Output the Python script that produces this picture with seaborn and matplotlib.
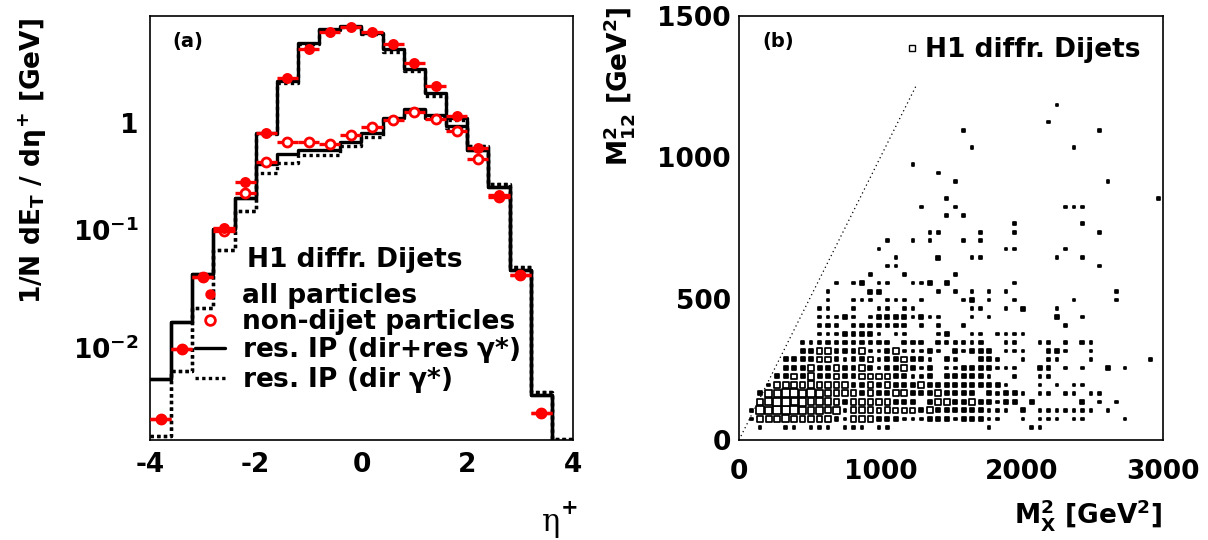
import numpy as np
import pandas as pd
import matplotlib
matplotlib.use("Agg")
import matplotlib.pyplot as plt
import seaborn as sns
from matplotlib.lines import Line2D
from matplotlib.ticker import LogLocator, NullFormatter, MultipleLocator

# ---------------- panel (a) data ----------------
eta_edges = [-4.0, -3.6, -3.2, -2.8, -2.4, -2.0, -1.6, -1.2, -0.8, -0.4, 0.0,
             0.4, 0.8, 1.2, 1.6, 2.0, 2.4, 2.8, 3.2, 3.6, 4.0]
eta_centers = [-3.8, -3.4, -3.0, -2.6, -2.2, -1.8, -1.4, -1.0, -0.6, -0.2,
               0.2, 0.6, 1.0, 1.4, 1.8, 2.2, 2.6, 3.0, 3.4, 3.8]
eta_half_width = 0.2

all_model_dirres = [0.0067, 0.0206, 0.052, 0.125, 0.229, 0.823, 2.26, 4.71, 6.22, 6.64,
                    5.72, 4.19, 2.85, 1.78, 1.09, 0.587, 0.285, 0.0564, 0.0049, 0.0008]
all_model_dir = [0.0022, 0.0078, 0.0267, 0.083, 0.18, 0.80, 2.16, 4.6, 6.1, 6.5,
                 5.6, 4.0, 2.74, 1.68, 1.06, 0.63, 0.30, 0.0597, 0.0052, 0.0021]
nondijet_model_dirres = [0.0067, 0.0206, 0.052, 0.125, 0.229, 0.444, 0.543, 0.587, 0.587, 0.69,
                         0.813, 1.09, 1.30, 1.16, 0.93, 0.587, 0.285, 0.0564, 0.0049, 0.0008]
nondijet_model_dir = [0.0022, 0.0078, 0.0267, 0.083, 0.18, 0.372, 0.458, 0.532, 0.532, 0.638,
                      0.761, 1.07, 1.28, 1.10, 0.90, 0.63, 0.30, 0.0597, 0.0052, 0.0021]
all_points = [0.0031, 0.0120, 0.0495, 0.127, 0.316, 0.813, 2.38, 4.19, 5.84, 6.51,
              5.9, 4.64, 3.22, 2.05, 1.14, 0.606, 0.245, 0.0513, 0.0035, np.nan]
nondijet_points = [0.0031, 0.0120, 0.0495, 0.12, 0.255, 0.462, 0.682, 0.69, 0.66, 0.787,
                   0.925, 1.05, 1.22, 1.07, 0.855, 0.49, 0.233, 0.0513, 0.0035, np.nan]

# ---------------- panel (b) data ----------------
# 2D histogram: 50 bins of 60 GeV^2 in M_X^2, rows of 30 GeV^2 in M_12^2.
mx_bin_width = 60.0
m12_bin_width = 30.0
m12_rows = [
    ".........." ".........." ".........." ".........." "..........",  # j=0
    "..1..11.11" "1.111.11.." ".........1" "....11...." "..........",
    ".155575555" "5215552221" "1122212221" "1..1.111.1" "1....1....",
    ".197999777" "5715553533" "3252222221" "11.2.11111" "11.1......",
    "..57997977" "7525555522" "2.25522522" "122.2....." "2.1.1.....",
    "..27799797" "5555252255" "22252222.2" "1221.11.11" ".11.......",
    "...1555575" "5552252522" "2522222222" "21...1.1.1" "1.........",
    "....225272" "2522555522" "112.222221" "..1..11..." "..........",
    ".....22252" "2522521225" "212.112222" "111..22.1." "1..2.1....",
    ".....22225" "5212251225" "221.21..22" "1..1..11.." ".1......1.",
    ".......225" "5222511251" "1121.21222" ".111..221." ".1........",  # j=10
    ".......111" "22222122.2" "22.211112." ".11..12.1." "21........",
    ".........1" "1122221.11" "...12..11." "1111......" "..........",
    ".........1" "21.1222122" ".1.1..1..." "........1." "..........",
    ".........1" "1121.12222" "1211...1.1" ".......2.." "1.........",
    ".........1" "1..1..11.1" "1......11." ".1.2...1.." "..........",
    ".........." "1..111.111" ".1....12.1" "..1......1" "....1.....",
    ".........." "1....22..." "...1.1.1.1" ".1........" "....1.....",
    ".........." ".1.12.11.." "112.2....." "..1......." "..........",
    ".........." ".....1...1" ".....1...." ".........." "..........",
    ".........." ".......11." ".........." ".........." "..1.......",  # j=20
    ".........." "........1." "...2...11." ".......1.." "1.........",
    ".........." "......1..." ".........." ".11.....1." "..........",
    ".........." ".......1.." "1.1...1.1." ".........." "..........",
    ".........." ".........." "..11....1." "..1......." "..1.......",
    ".........." ".........." ".........." "..1......." "1.........",
    ".........." ".........." "....1.1..." ".........." "..........",
    ".........." ".........." ".1...1...." "........11" "1.........",
    ".........." ".........." "....1....." ".........." ".........1",
    ".........." ".........." ".........." ".........." "..........",
    ".........." ".........." ".....1...." ".........." "...1......",  # j=30
    ".........." ".........." "...1......" ".........." "..........",
    ".........." ".........." "1........." ".........." "..........",
    ".........." ".........." ".........." ".........." "..........",
    ".........." ".........." ".......1.." ".........1" "..........",
    ".........." ".........." ".........." ".........." "..........",
    ".........." ".........." "......1..." ".........." "..1.......",
    ".........." ".........." ".........." "......1..." "..........",
    ".........." ".........." ".........." ".........." "..........",
    ".........." ".........." ".........." ".......1.." "..........",
]
limit_mx2 = [0.0, 1250.0]
limit_m12 = [0.0, 1250.0]

# ---------------- style ----------------
sns.set_theme(style="white")
plt.rcParams["font.family"] = ["DejaVu Sans"]
plt.rcParams["font.weight"] = "bold"
plt.rcParams["axes.labelweight"] = "bold"
plt.rcParams["mathtext.fontset"] = "custom"
plt.rcParams["mathtext.rm"] = "DejaVu Sans:bold"
plt.rcParams["mathtext.it"] = "DejaVu Sans:bold"
plt.rcParams["mathtext.bf"] = "DejaVu Sans:bold"
plt.rcParams["mathtext.sf"] = "DejaVu Sans:bold"
plt.rcParams["axes.linewidth"] = 1.2
plt.rcParams["axes.edgecolor"] = "black"
plt.rcParams["text.color"] = "black"
plt.rcParams["axes.labelcolor"] = "black"
plt.rcParams["xtick.color"] = "black"
plt.rcParams["ytick.color"] = "black"

FS = 19
W, H = 1208, 540
fig = plt.figure(figsize=(W / 100, H / 100), dpi=100)
ax1 = fig.add_axes([150 / W, 1 - 440 / H, 423 / W, 424 / H])
ax2 = fig.add_axes([739 / W, 1 - 440 / H, 424 / W, 424 / H])

# ---------------- panel (a) ----------------
def step_line(vals, ls):
    yv = list(vals) + [vals[-1]]
    sns.lineplot(x=eta_edges, y=yv, drawstyle="steps-post", color="black",
                 linewidth=2.4, linestyle=ls, estimator=None, sort=False, ax=ax1)

step_line(all_model_dir, (0, (1, 1)))
step_line(nondijet_model_dir, (0, (1, 1)))
step_line(all_model_dirres, "-")
step_line(nondijet_model_dirres, "-")

ax1.errorbar(eta_centers, nondijet_points, xerr=eta_half_width, fmt="none",
             ecolor="red", elinewidth=2.4, capsize=0, zorder=5)
ax1.errorbar(eta_centers, all_points, xerr=eta_half_width, fmt="none",
             ecolor="red", elinewidth=2.4, capsize=0, zorder=5)
sns.scatterplot(x=eta_centers, y=nondijet_points, marker="o", s=42, facecolor="white",
                edgecolor="red", linewidth=2.0, ax=ax1, zorder=6)
sns.scatterplot(x=eta_centers, y=all_points, marker="o", s=62, color="red",
                edgecolor="red", linewidth=0, ax=ax1, zorder=7)

ax1.set_yscale("log")
ax1.set_xlim(-4, 4)
ax1.set_ylim(0.00205, 8.0)
ax1.set_xlabel("")
ax1.set_ylabel("")
ax1.set_xticks([-4, -2, 0, 2, 4])
ax1.set_xticklabels(["-4", "-2", "0", "2", "4"])
ax1.xaxis.set_minor_locator(MultipleLocator(0.5))
ax1.set_yticks([0.01, 0.1, 1.0])
ax1.set_yticklabels([r"$10^{-2}$", r"$10^{-1}$", "1"])
ax1.yaxis.set_minor_locator(LogLocator(base=10, subs=list(range(2, 10))))
ax1.yaxis.set_minor_formatter(NullFormatter())
ax1.tick_params(axis="both", which="both", direction="in", top=False, right=False,
                labelsize=FS, width=1.0, color="black")
ax1.tick_params(axis="y", which="major", length=11, pad=8)
ax1.tick_params(axis="y", which="minor", length=5)
ax1.tick_params(axis="x", which="both", length=6, pad=9)
for lbl in ax1.get_yticklabels()[:2]:
    lbl.set_va("baseline")

ax1.text(0.052, 0.939, "(a)", transform=ax1.transAxes, fontsize=14,
         fontweight="bold", ha="left", va="center")
ax1.text(0.229, 0.4245, "H1 diffr. Dijets", transform=ax1.transAxes, fontsize=FS,
         fontweight="bold", ha="left", va="center")
handles_a = [
    Line2D([], [], ls="none", marker="o", color="red", ms=7.5, mew=0),
    Line2D([], [], ls="none", marker="o", mfc="white", mec="red", ms=7.0, mew=2.0),
    Line2D([], [], ls="-", color="black", lw=2.4),
    Line2D([], [], ls=(0, (1, 1)), color="black", lw=2.4),
]
labels_a = ["all particles", "non-dijet particles",
            r"res. IP (dir+res $\gamma$*)", r"res. IP (dir $\gamma$*)"]
leg = ax1.legend(handles_a, labels_a, loc="upper left", bbox_to_anchor=(0.106, 0.37),
                 frameon=False, fontsize=FS, handlelength=1.15, handletextpad=0.65,
                 labelspacing=0.0, borderpad=0, borderaxespad=0)
for t in leg.get_texts():
    t.set_fontweight("bold")

fig.text(33 / W, 1 - 18 / H, r"1/N dE$_{\rm T}$ / d$\eta^{+}$ [GeV]", rotation=90,
         ha="center", va="top", fontsize=FS, fontweight="bold")
# thin (non-bold) eta^+ axis title
fig.text(560 / W, 1 - 522 / H, "η", ha="right", va="center",
         fontsize=FS + 3, family="DejaVu Serif", fontweight="normal")
fig.text(561 / W, 1 - 508 / H, "+", ha="left", va="center",
         fontsize=FS - 4, family="DejaVu Sans", fontweight="bold")

# ---------------- panel (b) ----------------
recs = []
for j, row in enumerate(m12_rows):
    for i, ch in enumerate(row):
        if ch != ".":
            recs.append({"mx2": (i + 0.5) * mx_bin_width,
                         "m12": (j + 0.5) * m12_bin_width,
                         "level": ch})
cells = pd.DataFrame(recs)
levels = ["1", "2", "3", "5", "7", "9"]
size_map = {"1": 3.5, "2": 8.0, "3": 12.0, "5": 17.0, "7": 24.0, "9": 31.0}
face_map = {"1": "black", "2": "black", "3": "white", "5": "white", "7": "white", "9": "white"}
sns.scatterplot(data=cells, x="mx2", y="m12", hue="level", size="level",
                hue_order=levels, size_order=levels, palette=face_map, sizes=size_map,
                marker="s", edgecolor="black", linewidth=1.25, legend=False, ax=ax2,
                zorder=3)
sns.lineplot(x=limit_mx2, y=limit_m12, color="black", linewidth=0.9,
             linestyle=(0, (1, 2.5)), ax=ax2)

ax2.set_xlim(0, 3000)
ax2.set_ylim(0, 1500)
ax2.set_xlabel("")
ax2.set_ylabel("")
ax2.set_xticks([0, 1000, 2000, 3000])
ax2.set_xticklabels(["0", "1000", "2000", "3000"])
ax2.xaxis.set_minor_locator(MultipleLocator(250))
ax2.set_yticks([0, 500, 1000, 1500])
ax2.set_yticklabels(["0", "500", "1000", "1500"])
ax2.yaxis.set_minor_locator(MultipleLocator(250))
ax2.tick_params(axis="both", which="both", direction="in", top=False, right=False,
                labelsize=FS, width=1.0, color="black")
ax2.tick_params(axis="x", which="major", length=13, pad=14)
ax2.tick_params(axis="x", which="minor", length=6.5)
ax2.tick_params(axis="y", which="both", length=13.5, pad=6)

ax2.text(0.054, 0.939, "(b)", transform=ax2.transAxes, fontsize=14,
         fontweight="bold", ha="left", va="center")
leg2 = ax2.legend([Line2D([], [], ls="none", marker="s", mfc="white", mec="black",
                          ms=5, mew=1.0)], ["H1 diffr. Dijets"],
                  loc="center left", bbox_to_anchor=(0.39, 0.92), frameon=False,
                  fontsize=FS, handlelength=0.6, handletextpad=0.2,
                  borderpad=0, borderaxespad=0)
for t in leg2.get_texts():
    t.set_fontweight("bold")

fig.text(619 / W, 1 - 6 / H, r"M$^{2}_{12}$ [GeV$^{2}$]", rotation=90,
         ha="center", va="top", fontsize=FS, fontweight="bold")
fig.text(1162 / W, 1 - 515 / H, r"M$_{X}^{2}$ [GeV$^{2}$]", ha="right", va="center",
         fontsize=FS, fontweight="bold")

fig.savefig("out.png", dpi=100)
